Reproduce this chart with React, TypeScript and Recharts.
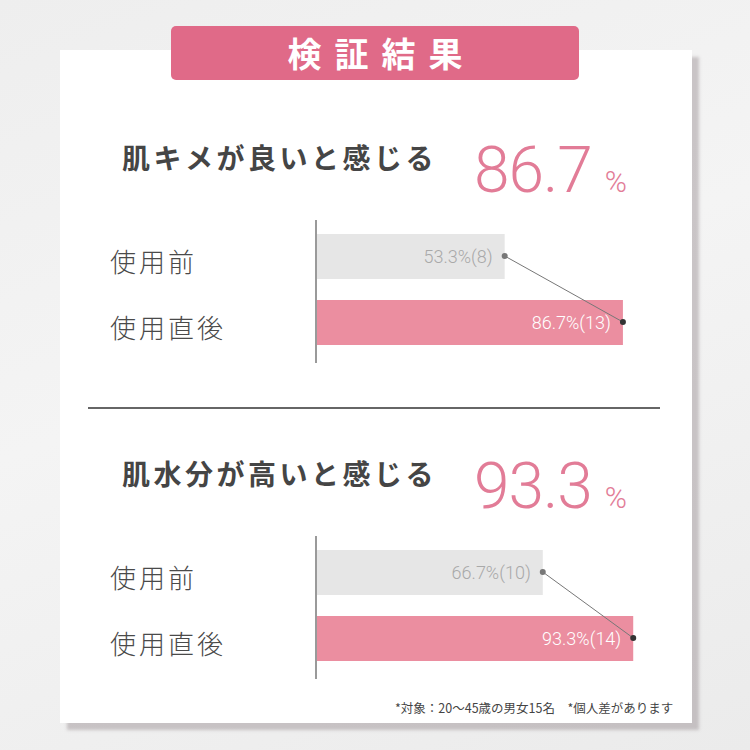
import React from 'react';
import { ComposedChart, Bar, Line, XAxis, YAxis, LabelList } from 'recharts';

const CATEGORIES = ['使用前', '使用直後'];

const KIME_VALUES = [53.3, 86.7];
const KIME_COUNTS = [8, 13];

const MOISTURE_VALUES = [66.7, 93.3];
const MOISTURE_COUNTS = [10, 14];

const SECTION_TITLES = ['肌キメが良いと感じる', '肌水分が高いと感じる'];
const SECTION_TOTALS = ['86.7', '93.3'];

const FOOTNOTE = '*対象：20〜45歳の男女15名　*個人差があります';

const JP = '"Noto Sans CJK JP", "Noto Sans", sans-serif';
const NUM = 'Roboto, "Noto Sans", sans-serif';

const PINK_HEAD = '#e06a88';
const PINK_BAR = '#eb8ea0';
const PINK_TEXT = '#e27c97';
const GRAY_BAR = '#e6e6e6';

function buildRows(values: number[], counts: number[]) {
  return CATEGORIES.map((name, i) => ({
    name,
    value: values[i],
    label: `${values[i]}%(${counts[i]})`,
  }));
}

const CategoryTick = (props: any) => {
  const { y, payload } = props;
  return (
    <text
      x={10}
      y={y}
      dy={4}
      dominantBaseline="central"
      textAnchor="start"
      fontFamily={JP}
      fontWeight={300}
      fontSize={26}
      letterSpacing={3}
      fill="#4a4a4a"
    >
      {payload.value}
    </text>
  );
};

const BarLabel = (props: any) => {
  const { x, y, width, height, value, index } = props;
  return (
    <text
      x={x + width - 12}
      y={y + height / 2}
      textAnchor="end"
      dominantBaseline="central"
      fontFamily={NUM}
      fontWeight={300}
      fontSize={18}
      fill={index === 0 ? '#a9a9a9' : '#fff'}
    >
      {value}
    </text>
  );
};

const EndDot = (props: any) => {
  const { cx, cy, index } = props;
  return <circle key={`dot-${index}`} cx={cx} cy={cy} r={3} fill={index === 0 ? '#777' : '#333'} />;
};

function Section({
  offset,
  title,
  total,
  values,
  counts,
  plotWidth,
}: {
  offset: number;
  title: string;
  total: string;
  values: number[];
  counts: number[];
  plotWidth: number;
}) {
  const rows = buildRows(values, counts);
  return (
    <>
      <div
        style={{
          position: 'absolute',
          left: 122,
          top: 143 + offset,
          fontFamily: JP,
          fontWeight: 700,
          fontSize: 28,
          lineHeight: 1,
          letterSpacing: 3.5,
          color: '#454545',
          whiteSpace: 'nowrap',
        }}
      >
        {title}
      </div>
      <div
        style={{
          position: 'absolute',
          left: 474,
          top: 139 + offset,
          fontFamily: NUM,
          fontWeight: 300,
          fontSize: 64,
          lineHeight: 1,
          letterSpacing: -1,
          color: PINK_TEXT,
          whiteSpace: 'nowrap',
        }}
      >
        {total}
        <span style={{ fontSize: 30, marginLeft: 13, letterSpacing: 0 }}>%</span>
      </div>
      <div style={{ position: 'absolute', left: 100, top: 210 + offset }}>
        <ComposedChart
          width={216 + plotWidth + 30}
          height={163}
          layout="vertical"
          data={rows}
          margin={{ top: 10, right: 30, bottom: 10, left: 0 }}
        >
          <XAxis type="number" domain={[0, 100]} hide />
          <YAxis
            type="category"
            dataKey="name"
            width={216}
            padding={{ top: 3, bottom: 8 }}
            axisLine={{ stroke: '#9a9a9a', strokeWidth: 2 }}
            tickLine={false}
            tick={<CategoryTick />}
          />
          <Bar dataKey="value" barSize={45} isAnimationActive={false} shape={(p: any) => (
            <rect
              x={p.x}
              y={p.y}
              width={p.width}
              height={p.height}
              fill={p.index === 0 ? GRAY_BAR : PINK_BAR}
            />
          )}>
            <LabelList dataKey="label" content={<BarLabel />} />
          </Bar>
          <Line
            dataKey="value"
            stroke="#777"
            strokeWidth={1}
            dot={<EndDot />}
            activeDot={false}
            isAnimationActive={false}
          />
        </ComposedChart>
      </div>
    </>
  );
}

export default function App() {
  return (
    <div
      style={{
        position: 'absolute',
        left: 0,
        top: 0,
        width: 750,
        height: 750,
        overflow: 'hidden',
        background: 'linear-gradient(160deg, #eeeeee 0%, #f4f4f4 45%, #ebebeb 100%)',
      }}
    >
      {/* card */}
      <div
        style={{
          position: 'absolute',
          left: 60,
          top: 50,
          width: 632,
          height: 673,
          background: '#fff',
          boxShadow: '7px 7px 3px rgba(150, 140, 145, 0.45)',
        }}
      />
      {/* header */}
      <div
        style={{
          position: 'absolute',
          left: 171,
          top: 26,
          width: 408,
          height: 54,
          borderRadius: 5,
          background: PINK_HEAD,
          color: '#fff',
          fontFamily: JP,
          fontWeight: 700,
          fontSize: 34,
          lineHeight: '54px',
          letterSpacing: 13,
          paddingLeft: 13,
          boxSizing: 'border-box',
          textAlign: 'center',
        }}
      >
        検証結果
      </div>

      <Section
        offset={0}
        title={SECTION_TITLES[0]}
        total={SECTION_TOTALS[0]}
        values={KIME_VALUES}
        counts={KIME_COUNTS}
        plotWidth={354}
      />

      <div style={{ position: 'absolute', left: 88, top: 407, width: 572, height: 2, background: '#666' }} />

      <Section
        offset={316}
        title={SECTION_TITLES[1]}
        total={SECTION_TOTALS[1]}
        values={MOISTURE_VALUES}
        counts={MOISTURE_COUNTS}
        plotWidth={340}
      />

      <div
        style={{
          position: 'absolute',
          left: 395,
          top: 700,
          fontFamily: JP,
          fontSize: 12.5,
          lineHeight: '16px',
          color: '#444',
          whiteSpace: 'nowrap',
        }}
      >
        {FOOTNOTE}
      </div>
    </div>
  );
}
